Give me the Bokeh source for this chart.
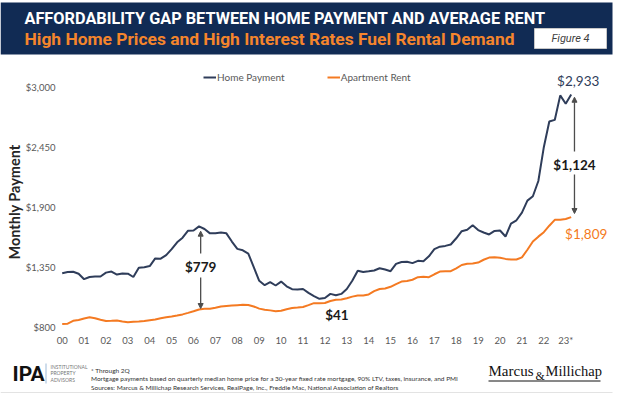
import numpy as np
from bokeh.plotting import figure
from bokeh.models import (Range1d, FixedTicker, NumeralTickFormatter, Label, Arrow,
                          NormalHead, Legend, LegendItem)
from bokeh.embed import file_html
from bokeh.resources import INLINE
from bokeh.core.properties import value

# ---------------- data (quarterly, 2000Q1 .. 2023Q2) ----------------
home_payment = [
    1295, 1305, 1308, 1290, 1240, 1260, 1265, 1265, 1300, 1310,
    1282, 1292, 1290, 1260, 1345, 1350, 1360, 1430, 1428, 1460,
    1515, 1578, 1620, 1685, 1686, 1724, 1700, 1660, 1662, 1668,
    1660, 1585, 1518, 1505, 1475, 1350, 1225, 1185, 1212, 1182,
    1218, 1175, 1148, 1145, 1150, 1115, 1085, 1060, 1068, 1105,
    1092, 1105, 1150, 1225, 1318, 1305, 1312, 1320, 1340, 1328,
    1313, 1380, 1398, 1400, 1387, 1408, 1405, 1450, 1515, 1538,
    1545, 1558, 1615, 1680, 1693, 1735, 1690, 1668, 1650, 1682,
    1686, 1631, 1750, 1780, 1850, 1960, 2000, 2140, 2450, 2685,
    2700, 2925, 2848, 2933,
]
apartment_rent = [
    830, 832, 858, 866, 880, 890, 882, 868, 856, 858,
    861, 853, 846, 849, 851, 857, 864, 870, 882, 891,
    898, 907, 917, 931, 946, 962, 968, 968, 978, 990,
    995, 999, 1002, 1005, 1003, 990, 970, 960, 954, 947,
    950, 965, 976, 980, 985, 1002, 1020, 1020, 1022, 1040,
    1052, 1053, 1065, 1080, 1090, 1090, 1100, 1130, 1150, 1155,
    1170, 1195, 1218, 1224, 1235, 1258, 1263, 1258, 1285, 1310,
    1313, 1313, 1340, 1370, 1381, 1384, 1392, 1418, 1438, 1440,
    1436, 1426, 1420, 1420, 1440, 1510, 1585, 1630, 1671, 1730,
    1784, 1784, 1792, 1809,
]
year_labels = ["00", "01", "02", "03", "04", "05", "06", "07", "08", "09", "10", "11",
               "12", "13", "14", "15", "16", "17", "18", "19", "20", "21", "22", "23*"]
y_ticks = [800, 1350, 1900, 2450, 3000]
gap_2006_text = "$779"
gap_2012_text = "$41"

quarters = list(range(len(home_payment)))

W = 617
NAVY = "#112b54"
SUB_ORANGE = "#f5852c"
LINE_NAVY = "#2f3d5a"
LINE_ORANGE = "#f47a22"
GREY = "#595959"
FONT = "Lato"


def blank(height):
    f = figure(width=W, height=height, x_range=Range1d(0, W), y_range=Range1d(height, 0),
               toolbar_location=None, output_backend="svg", min_border=0,
               x_axis_location=None, y_axis_location=None)
    f.grid.visible = False
    f.outline_line_color = None
    f.background_fill_color = "white"
    f.border_fill_color = "white"
    return f


# ---------------- header ----------------
hdr = blank(56)
hdr.quad(left=0, right=612, top=2, bottom=54, fill_color=NAVY, line_color=None)
hdr.text(x=[24], y=[18], text=["AFFORDABILITY GAP BETWEEN HOME PAYMENT AND AVERAGE RENT"],
         text_font=value("Roboto"), text_font_style="bold", text_font_size="16.3px",
         text_color="white", text_baseline="middle", text_align="left")
hdr.text(x=[24], y=[38.5], text=["High Home Prices and High Interest Rates Fuel Rental Demand"],
         text_font=value("Roboto"), text_font_style="bold", text_font_size="17.4px",
         text_color=SUB_ORANGE, text_baseline="middle", text_align="left")
hdr.quad(left=534, right=606, top=28, bottom=48, fill_color="white", line_color="#c8c8c8")
hdr.text(x=[570], y=[38], text=["Figure 4"], text_font=value("Roboto"),
         text_font_style="italic", text_font_size="11px", text_color="#404040",
         text_baseline="middle", text_align="center")

# ---------------- main chart ----------------
FRAME_L = 57
p = figure(width=W, height=294,
           x_range=Range1d((FRAME_L - 61.7) / 5.473, (610 - 61.7) / 5.473),
           y_range=Range1d(742, 3153),
           toolbar_location=None, output_backend="svg",
           min_border_left=FRAME_L, min_border_right=7, min_border_top=14, min_border_bottom=17)
p.grid.visible = False
p.outline_line_color = None
p.background_fill_color = "white"
p.border_fill_color = "white"

r_home = p.line(quarters, home_payment, line_color=LINE_NAVY, line_width=2)
r_rent = p.line(quarters, apartment_rent, line_color=LINE_ORANGE, line_width=2)

for ax in (p.xaxis[0], p.yaxis[0]):
    ax.axis_line_color = None
    ax.major_tick_line_color = None
    ax.minor_tick_line_color = None
    ax.major_tick_out = 0
    ax.major_tick_in = 0
    ax.minor_tick_out = 0
    ax.minor_tick_in = 0
    ax.major_label_text_font = FONT
    ax.major_label_text_font_size = "9.5px"
    ax.major_label_text_color = GREY

p.xaxis.ticker = FixedTicker(ticks=[4 * k for k in range(len(year_labels))])
p.xaxis.major_label_overrides = {4 * k: lab for k, lab in enumerate(year_labels)}
p.xaxis.major_label_standoff = 1
p.yaxis.ticker = FixedTicker(ticks=y_ticks)
p.yaxis.formatter = NumeralTickFormatter(format="$0,0")
p.yaxis.major_label_standoff = 2
p.yaxis.axis_label = "Monthly Payment"
p.yaxis.axis_label_standoff = 0
p.yaxis.axis_label_text_font = FONT
p.yaxis.axis_label_text_font_style = "bold"
p.yaxis.axis_label_text_font_size = "14.5px"
p.yaxis.axis_label_text_color = "#262626"

legend = Legend(items=[LegendItem(label="Home Payment", renderers=[r_home]),
                       LegendItem(label="Apartment Rent", renderers=[r_rent])],
                orientation="horizontal", location=(146, 250),
                border_line_color=None, background_fill_alpha=0, padding=0, margin=0,
                spacing=42, glyph_width=13, glyph_height=12, label_standoff=1,
                label_height=12, label_text_font=FONT, label_text_font_size="10px",
                label_text_color=GREY)
p.add_layout(legend)

# annotations
last = quarters[-1]
p.add_layout(Label(x=last, y=home_payment[-1], x_offset=7, y_offset=13,
                   text=f"${home_payment[-1]:,}", text_align="center", text_baseline="middle",
                   text_font=FONT, text_font_size="13.5px", text_color=LINE_NAVY))
p.add_layout(Label(x=last, y=apartment_rent[-1], x_offset=15, y_offset=-17,
                   text=f"${apartment_rent[-1]:,}", text_align="center", text_baseline="middle",
                   text_font=FONT, text_font_size="13.5px", text_color=LINE_ORANGE))
gap_x = last + 0.6
p.add_layout(Label(x=gap_x, y=2291, text=f"${home_payment[-1] - apartment_rent[-1]:,}",
                   text_align="center", text_baseline="middle", text_font=FONT,
                   text_font_style="bold", text_font_size="13.5px", text_color="#1a1a1a"))
ARROW_C = "#4d4d4d"


def add_arrow(x, y0, y1):
    p.add_layout(Arrow(end=NormalHead(size=5, line_color=ARROW_C, fill_color=ARROW_C),
                       x_start=x, y_start=y0, x_end=x, y_end=y1,
                       line_color=ARROW_C, line_width=1.3))


add_arrow(gap_x, 2411, 2908)
add_arrow(gap_x, 2200, 1842)

x06 = 25.3
p.add_layout(Label(x=x06, y=1356, text=gap_2006_text, text_align="center",
                   text_baseline="middle", text_font=FONT, text_font_style="bold",
                   text_font_size="13.5px", text_color="#1a1a1a"))
add_arrow(x06, 1476, 1680)
add_arrow(x06, 1256, 971)

p.add_layout(Label(x=50.2, y=916, text=gap_2012_text, text_align="center",
                   text_baseline="middle", text_font=FONT, text_font_style="bold",
                   text_font_size="13.5px", text_color="#1a1a1a"))

# ---------------- footer ----------------
ft = blank(45)
ft.text(x=[12], y=[23], text=["IPA"], text_font=value("Roboto"), text_font_style="bold",
        text_font_size="21px", text_color="#111111", text_baseline="middle", text_align="left")
ft.segment(x0=[45.5], y0=[13], x1=[45.5], y1=[33], line_color="#9dbad8", line_width=1)
ft.text(x=[50, 50, 50], y=[16, 22.5, 29], text=["INSTITUTIONAL", "PROPERTY", "ADVISORS"],
        text_font=value(FONT), text_font_size="5px", text_color="#777777",
        text_baseline="middle", text_align="left")
ft.text(x=[90.5, 90.5, 90.5], y=[20, 28.3, 36.5],
        text=["* Through 2Q",
              "Mortgage payments based on quarterly median home price for a 30-year fixed rate mortgage, 90% LTV, taxes, insurance, and PMI",
              "Sources: Marcus & Millichap Research Services, RealPage, Inc., Freddie Mac, National Association of Realtors"],
        text_font=value(FONT), text_font_size="6.5px", text_color="#333333",
        text_baseline="middle", text_align="left")
ft.text(x=[488], y=[20], text=["Marcus"], text_font=value("Liberation Serif"),
        text_font_size="15px", text_color="#111111", text_baseline="middle", text_align="left")
ft.text(x=[535], y=[25], text=["&"], text_font=value("Liberation Serif"),
        text_font_size="12px", text_color="#111111", text_baseline="middle", text_align="left")
ft.text(x=[545], y=[20], text=["Millichap"], text_font=value("Liberation Serif"),
        text_font_size="14.5px", text_color="#111111", text_baseline="middle", text_align="left")
ft.segment(x0=[488], y0=[30.5], x1=[600], y1=[30.5], line_color="#111111", line_width=1)
ft.segment(x0=[0], y0=[42], x1=[612], y1=[42], line_color="#e3e3e3", line_width=1)

open("out.html", "w").write(file_html([hdr, p, ft], INLINE))
